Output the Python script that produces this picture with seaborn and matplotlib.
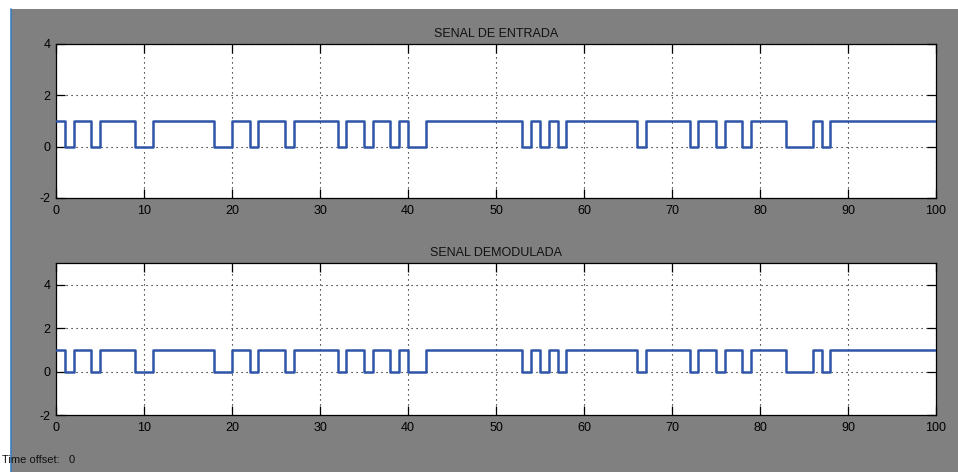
import matplotlib
matplotlib.use("Agg")
import matplotlib.pyplot as plt
import seaborn as sns
import pandas as pd
from matplotlib.patches import Rectangle
from matplotlib.lines import Line2D

# ---- data ----
step_times = [0, 1, 2, 4, 5, 9, 11, 18, 20, 22, 23, 26, 27, 32, 33, 35, 36, 38,
              39, 40, 42, 53, 54, 55, 56, 57, 58, 66, 67, 72, 73, 75, 76, 78,
              79, 83, 86, 87, 88, 100]
input_levels = [1, 0, 1, 0, 1, 0, 1, 0, 1, 0, 1, 0, 1, 0, 1, 0, 1, 0,
                1, 0, 1, 0, 1, 0, 1, 0, 1, 0, 1, 0, 1, 0, 1, 0,
                1, 0, 1, 0, 1, 1]
demod_levels = [1, 0, 1, 0, 1, 0, 1, 0, 1, 0, 1, 0, 1, 0, 1, 0, 1, 0,
                1, 0, 1, 0, 1, 0, 1, 0, 1, 0, 1, 0, 1, 0, 1, 0,
                1, 0, 1, 0, 1, 1]
titles = ["SENAL DE ENTRADA", "SENAL DEMODULADA"]
x_ticks = [0, 10, 20, 30, 40, 50, 60, 70, 80, 90, 100]
y_ticks = [-2, 0, 2, 4]
y_limits = [(-2, 4), (-2, 5)]

sns.set_style("ticks")
plt.rcParams["font.family"] = ["Liberation Sans", "DejaVu Sans"]
plt.rcParams["axes.unicode_minus"] = False

W, H = 958, 472
fig = plt.figure(figsize=(W / 100, H / 100), dpi=100, facecolor="white")

# scope-style gray panel plus left border (behind the axes)
fig.patches.append(Rectangle((11 / W, 0), 1, 1 - 9 / H, transform=fig.transFigure,
                             facecolor="#808080", edgecolor="none", zorder=-10))
fig.lines.append(Line2D([10.5 / W, 10.5 / W], [0, 1 - 9 / H], transform=fig.transFigure,
                        color="#3d7fc0", lw=1.2, zorder=-9))

left, width = 56 / W, 880 / W
boxes = [(left, 1 - 198 / H, width, 154 / H), (left, 1 - 415 / H, width, 152 / H)]
series = [input_levels, demod_levels]

for box, levels, title, ylim in zip(boxes, series, titles, y_limits):
    ax = fig.add_axes(box)
    ax.set_zorder(5)
    df = pd.DataFrame({"t": step_times, "v": levels})
    sns.lineplot(data=df, x="t", y="v", ax=ax, estimator=None, sort=False,
                 drawstyle="steps-post", color="#2f55a8", lw=1.8, zorder=3)
    ax.set_facecolor("white")
    ax.set_xlim(0, 100)
    ax.set_ylim(*ylim)
    ax.set_xticks(x_ticks)
    ax.set_yticks(y_ticks)
    ax.set_xlabel("")
    ax.set_ylabel("")
    ax.grid(True, color="black", linestyle=(0, (1, 3.5)), lw=0.8)
    ax.tick_params(direction="in", length=6.5, width=0.9, top=True, right=True,
                   labelsize=9, colors="black", pad=4)
    ax.tick_params(axis="x", pad=5)
    for s in ax.spines.values():
        s.set_visible(True)
        s.set_color("black")
        s.set_linewidth(0.9)
    ax.set_title(title, fontsize=9, pad=5, color="#111111")

fig.text(2 / W, 1 - 460 / H, "Time offset:   0", fontsize=8, va="center", ha="left",
         color="#111111")

fig.savefig("out.png", dpi=100, facecolor=fig.get_facecolor())
